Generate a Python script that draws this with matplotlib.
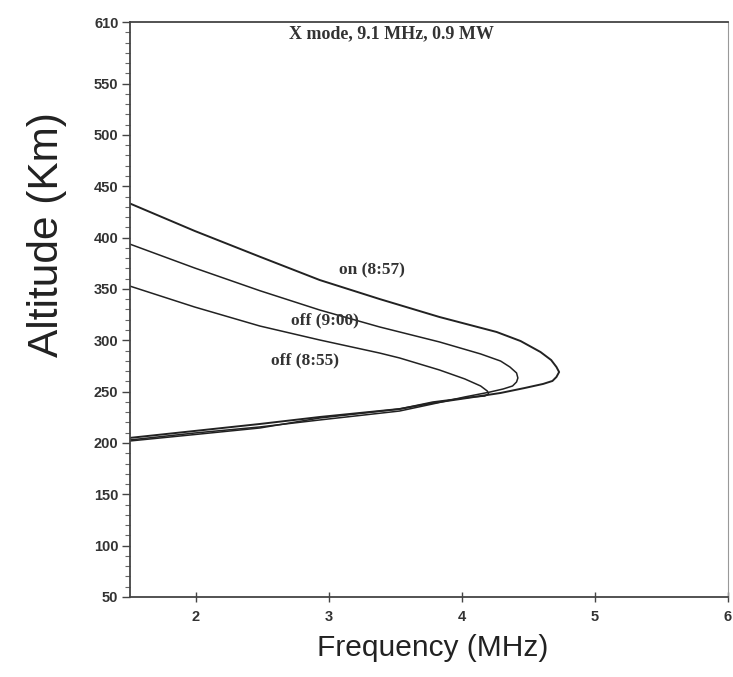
import matplotlib
matplotlib.use("Agg")
import matplotlib.pyplot as plt
import numpy as np

# profiles: frequency (MHz) vs. virtual altitude (km)
# each run goes along the upper branch to the nose and back along the lower one
on_857_freq = [1.50, 1.99, 2.48, 2.93, 3.38, 3.83, 4.26, 4.44, 4.59, 4.67, 4.71, 4.73,
               4.71, 4.68, 4.61, 4.47, 4.29, 4.04, 3.78, 3.53, 3.23, 2.93, 2.48, 1.99, 1.50]
on_857_alt = [433.4, 406.5, 381.4, 358.7, 340.2, 322.7, 308.1, 299.3, 288.6, 280.8, 274.0, 269.1,
              264.3, 260.4, 257.5, 253.5, 248.7, 243.8, 238.9, 233.1, 229.2, 225.3, 218.5, 211.7, 204.9]

off_900_freq = [1.50, 1.99, 2.48, 2.93, 3.38, 3.83, 4.14, 4.29, 4.36, 4.41, 4.42,
                4.41, 4.38, 4.31, 4.21, 4.02, 3.78, 3.53, 2.93, 2.48, 1.99, 1.50]
off_900_alt = [393.8, 370.4, 348.3, 329.5, 313.0, 298.4, 286.7, 279.8, 274.0, 268.2, 263.3,
               259.4, 255.5, 252.6, 249.6, 244.8, 238.0, 231.1, 222.4, 215.6, 209.7, 202.9]

off_855_freq = [1.50, 1.99, 2.48, 2.93, 3.38, 3.53, 3.83, 4.02, 4.14, 4.19, 4.20,
                4.17, 4.08, 3.78, 3.53, 2.93, 2.48, 1.99, 1.50]
off_855_alt = [352.9, 332.4, 313.9, 300.3, 287.6, 282.8, 271.1, 262.4, 255.5, 250.6, 247.6,
               245.7, 244.8, 239.9, 233.1, 224.3, 214.6, 208.2, 201.9]

curve_labels = ["on (8:57)", "off (9:00)", "off (8:55)"]
label_freq = [3.32, 2.97, 2.82]
label_alt = [368.5, 319.8, 280.8]

title_text = "X mode, 9.1 MHz, 0.9 MW"

xticks = [2, 3, 4, 5, 6]
yticks = [50, 100, 150, 200, 250, 300, 350, 400, 450, 500, 550, 610]

ink = "#222222"

fig = plt.figure(figsize=(7.33, 6.77), dpi=100)
ax = fig.add_axes([0.1767, 0.1182, 0.9932 - 0.1767, 0.9675 - 0.1182])

ax.plot(on_857_freq, on_857_alt, color=ink, lw=1.4)
ax.plot(off_900_freq, off_900_alt, color=ink, lw=1.1)
ax.plot(off_855_freq, off_855_alt, color=ink, lw=1.1)

for txt, fx, fy in zip(curve_labels, label_freq, label_alt):
    ax.text(fx, fy, txt, ha="center", va="center", fontsize=12.5,
            family="Liberation Serif", fontweight="bold", color="#333333")

ax.text(3.47, 599, title_text, ha="center", va="center", fontsize=13,
        family="Liberation Serif", fontweight="bold", color="#333333")

ax.set_xlim(1.5, 6)
ax.set_ylim(50, 610)
ax.set_xticks(xticks)
ax.set_yticks(yticks)
ax.set_yticks(np.arange(50, 611, 10), minor=True)

for lbl in ax.get_xticklabels() + ax.get_yticklabels():
    lbl.set_family("Liberation Sans")
    lbl.set_fontweight("bold")
    lbl.set_fontsize(10.5)
    lbl.set_color("#333333")

ax.tick_params(axis="y", which="major", direction="out", length=6, width=1, color="#444444", pad=2)
ax.tick_params(axis="y", which="minor", direction="out", length=3.5, width=0.8, color="#666666")
ax.tick_params(axis="x", which="major", direction="inout", length=7, width=1, color="#444444", pad=6)

for side, sp in ax.spines.items():
    sp.set_color("#444444")
    sp.set_linewidth(1.3)
ax.spines["right"].set_linewidth(0.8)
ax.spines["right"].set_color("#999999")

fig.text(433 / 733, 1 - 648 / 677, "Frequency (MHz)", ha="center", va="center",
         fontsize=21.5, family="Liberation Sans", color=ink)
fig.text(47 / 733, 1 - 235 / 677, "Altitude (Km)", ha="center", va="center",
         rotation=90, fontsize=30.5, family="Liberation Sans", color=ink)

fig.savefig("out.png", dpi=100)
